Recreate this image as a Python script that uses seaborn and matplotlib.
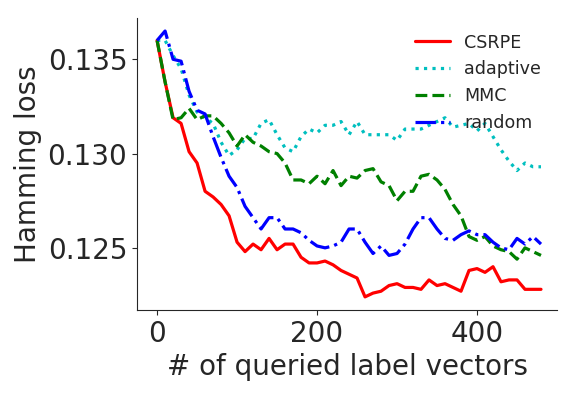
import matplotlib
matplotlib.use("Agg")
import matplotlib.pyplot as plt
import pandas as pd
import seaborn as sns

# number of queried label vectors
queries = list(range(0, 490, 10))

csrpe = [
    0.1360, 0.1338, 0.1319, 0.1316, 0.1301, 0.1295, 0.1280, 0.1277, 0.1273, 0.1267,
    0.1253, 0.1248, 0.1252, 0.1249, 0.1255, 0.1249, 0.1252, 0.1252, 0.1245, 0.1242,
    0.1242, 0.1243, 0.1241, 0.1238, 0.1236, 0.1234, 0.1224, 0.1226, 0.1227, 0.1230,
    0.1231, 0.1229, 0.1229, 0.1228, 0.1233, 0.1230, 0.1231, 0.1229, 0.1227, 0.1238,
    0.1239, 0.1237, 0.1240, 0.1232, 0.1233, 0.1233, 0.1228, 0.1228, 0.1228,
]
adaptive = [
    0.1360, 0.1360, 0.1352, 0.1345, 0.1331, 0.1322, 0.1319, 0.1316, 0.1306, 0.1299,
    0.1302, 0.1308, 0.1308, 0.1316, 0.1318, 0.1310, 0.1303, 0.1301, 0.1309, 0.1313,
    0.1311, 0.1315, 0.1315, 0.1317, 0.1310, 0.1317, 0.1310, 0.1310, 0.1310, 0.1310,
    0.1307, 0.1313, 0.1313, 0.1313, 0.1315, 0.1317, 0.1319, 0.1314, 0.1315, 0.1316,
    0.1312, 0.1316, 0.1309, 0.1302, 0.1296, 0.1291, 0.1295, 0.1293, 0.1293,
]
mmc = [
    0.1360, 0.1338, 0.1318, 0.1319, 0.1324, 0.1318, 0.1320, 0.1320, 0.1316, 0.1311,
    0.1304, 0.1310, 0.1306, 0.1304, 0.1301, 0.1300, 0.1295, 0.1286, 0.1286, 0.1284,
    0.1288, 0.1284, 0.1291, 0.1283, 0.1288, 0.1287, 0.1291, 0.1292, 0.1285, 0.1283,
    0.1275, 0.1280, 0.1280, 0.1288, 0.1289, 0.1286, 0.1281, 0.1273, 0.1267, 0.1256,
    0.1254, 0.1256, 0.1251, 0.1249, 0.1248, 0.1244, 0.1250, 0.1248, 0.1246,
]
random_q = [
    0.1360, 0.1365, 0.1350, 0.1349, 0.1333, 0.1323, 0.1321, 0.1309, 0.1298, 0.1288,
    0.1282, 0.1272, 0.1266, 0.1260, 0.1266, 0.1266, 0.1260, 0.1260, 0.1258, 0.1254,
    0.1251, 0.1250, 0.1251, 0.1253, 0.1260, 0.1260, 0.1253, 0.1247, 0.1251, 0.1246,
    0.1247, 0.1252, 0.1260, 0.1266, 0.1266, 0.1260, 0.1255, 0.1254, 0.1257, 0.1259,
    0.1257, 0.1257, 0.1253, 0.1250, 0.1249, 0.1255, 0.1252, 0.1256, 0.1252,
]

series = [
    ("CSRPE", csrpe, "r", "-"),
    ("adaptive", adaptive, "c", ":"),
    ("MMC", mmc, "g", "--"),
    ("random", random_q, "b", "-."),
]


def main():
    sns.set_style("ticks")

    fig = plt.figure(figsize=(5.76, 3.96), dpi=100)
    ax = fig.add_axes([0.238, 0.217, 0.729, 0.738])

    for name, vals, color, ls in series:
        df = pd.DataFrame({"queries": queries, "loss": vals})
        sns.lineplot(data=df, x="queries", y="loss", ax=ax, color=color,
                     linestyle=ls, linewidth=2.3, label=name)

    ax.set_xlim(-25, 500)
    ax.set_ylim(0.1217, 0.1372)
    ax.set_xticks([0, 200, 400])
    ax.set_yticks([0.125, 0.130, 0.135])
    ax.set_yticklabels(["0.125", "0.130", "0.135"])
    ax.tick_params(labelsize=20)
    ax.set_xlabel("# of queried label vectors", fontsize=20)
    ax.set_ylabel("Hamming loss", fontsize=20)
    ax.legend(loc="upper right", frameon=False, fontsize=12.6)
    sns.despine(ax=ax)

    fig.savefig("out.png", dpi=100)


if __name__ == "__main__":
    main()
